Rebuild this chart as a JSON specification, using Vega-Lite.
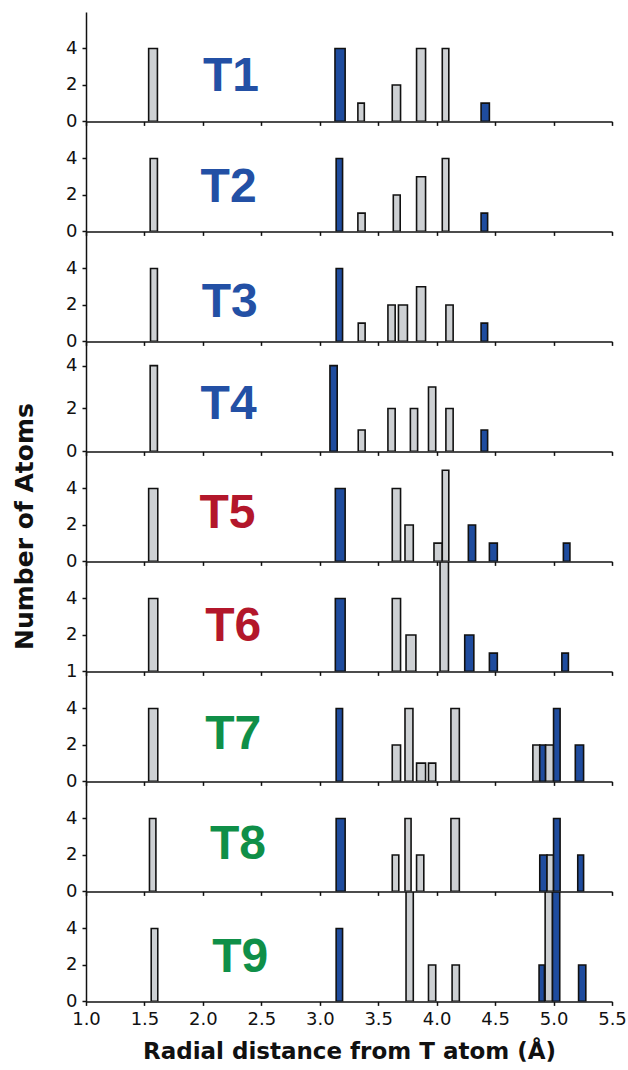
{
  "$schema": "https://vega.github.io/schema/vega-lite/v6.json",
  "padding": {"left": 12, "top": 12, "right": 0, "bottom": 0},
  "background": "white",
  "config": {
    "view": {"stroke": null},
    "axis": {"domainColor": "#111", "tickColor": "#111", "domainWidth": 1.5, "tickWidth": 1.5, "tickSize": 4, "labelFont": "DejaVu Sans", "labelFontSize": 18, "labelColor": "#111", "grid": false, "titleColor": "#111"}
  },
  "datasets": {
    "bars": [
      {"p": "T1", "kind": "O", "lo": 1.536, "hi": 1.611, "n": 4},
      {"p": "T1", "kind": "T", "lo": 3.130, "hi": 3.217, "n": 4},
      {"p": "T1", "kind": "O", "lo": 3.326, "hi": 3.381, "n": 1},
      {"p": "T1", "kind": "O", "lo": 3.620, "hi": 3.691, "n": 2},
      {"p": "T1", "kind": "O", "lo": 3.828, "hi": 3.905, "n": 4},
      {"p": "T1", "kind": "O", "lo": 4.048, "hi": 4.104, "n": 4},
      {"p": "T1", "kind": "T", "lo": 4.380, "hi": 4.451, "n": 1},
      {"p": "T2", "kind": "O", "lo": 1.549, "hi": 1.611, "n": 4},
      {"p": "T2", "kind": "T", "lo": 3.140, "hi": 3.195, "n": 4},
      {"p": "T2", "kind": "O", "lo": 3.326, "hi": 3.388, "n": 1},
      {"p": "T2", "kind": "O", "lo": 3.629, "hi": 3.688, "n": 2},
      {"p": "T2", "kind": "O", "lo": 3.828, "hi": 3.905, "n": 3},
      {"p": "T2", "kind": "O", "lo": 4.048, "hi": 4.104, "n": 4},
      {"p": "T2", "kind": "T", "lo": 4.380, "hi": 4.436, "n": 1},
      {"p": "T3", "kind": "O", "lo": 1.552, "hi": 1.611, "n": 4},
      {"p": "T3", "kind": "T", "lo": 3.140, "hi": 3.195, "n": 4},
      {"p": "T3", "kind": "O", "lo": 3.329, "hi": 3.388, "n": 1},
      {"p": "T3", "kind": "O", "lo": 3.583, "hi": 3.645, "n": 2},
      {"p": "T3", "kind": "O", "lo": 3.673, "hi": 3.750, "n": 2},
      {"p": "T3", "kind": "O", "lo": 3.828, "hi": 3.905, "n": 3},
      {"p": "T3", "kind": "O", "lo": 4.079, "hi": 4.141, "n": 2},
      {"p": "T3", "kind": "T", "lo": 4.380, "hi": 4.436, "n": 1},
      {"p": "T4", "kind": "O", "lo": 1.549, "hi": 1.611, "n": 4},
      {"p": "T4", "kind": "T", "lo": 3.087, "hi": 3.149, "n": 4},
      {"p": "T4", "kind": "O", "lo": 3.329, "hi": 3.388, "n": 1},
      {"p": "T4", "kind": "O", "lo": 3.583, "hi": 3.645, "n": 2},
      {"p": "T4", "kind": "O", "lo": 3.775, "hi": 3.837, "n": 2},
      {"p": "T4", "kind": "O", "lo": 3.930, "hi": 3.992, "n": 3},
      {"p": "T4", "kind": "O", "lo": 4.079, "hi": 4.141, "n": 2},
      {"p": "T4", "kind": "T", "lo": 4.380, "hi": 4.436, "n": 1},
      {"p": "T5", "kind": "O", "lo": 1.536, "hi": 1.614, "n": 4},
      {"p": "T5", "kind": "T", "lo": 3.133, "hi": 3.217, "n": 4},
      {"p": "T5", "kind": "O", "lo": 3.620, "hi": 3.691, "n": 4},
      {"p": "T5", "kind": "O", "lo": 3.729, "hi": 3.800, "n": 2},
      {"p": "T5", "kind": "O", "lo": 3.977, "hi": 4.048, "n": 1},
      {"p": "T5", "kind": "O", "lo": 4.048, "hi": 4.104, "n": 5},
      {"p": "T5", "kind": "T", "lo": 4.271, "hi": 4.333, "n": 2},
      {"p": "T5", "kind": "T", "lo": 4.451, "hi": 4.519, "n": 1},
      {"p": "T5", "kind": "T", "lo": 5.084, "hi": 5.140, "n": 1},
      {"p": "T6", "kind": "O", "lo": 1.536, "hi": 1.614, "n": 4},
      {"p": "T6", "kind": "T", "lo": 3.133, "hi": 3.217, "n": 4},
      {"p": "T6", "kind": "O", "lo": 3.620, "hi": 3.691, "n": 4},
      {"p": "T6", "kind": "O", "lo": 3.738, "hi": 3.822, "n": 2},
      {"p": "T6", "kind": "O", "lo": 4.029, "hi": 4.101, "n": 6},
      {"p": "T6", "kind": "T", "lo": 4.240, "hi": 4.318, "n": 2},
      {"p": "T6", "kind": "T", "lo": 4.451, "hi": 4.519, "n": 1},
      {"p": "T6", "kind": "T", "lo": 5.071, "hi": 5.127, "n": 1},
      {"p": "T7", "kind": "O", "lo": 1.536, "hi": 1.614, "n": 4},
      {"p": "T7", "kind": "T", "lo": 3.140, "hi": 3.195, "n": 4},
      {"p": "T7", "kind": "O", "lo": 3.620, "hi": 3.691, "n": 2},
      {"p": "T7", "kind": "O", "lo": 3.729, "hi": 3.797, "n": 4},
      {"p": "T7", "kind": "O", "lo": 3.828, "hi": 3.905, "n": 1},
      {"p": "T7", "kind": "O", "lo": 3.930, "hi": 3.992, "n": 1},
      {"p": "T7", "kind": "O", "lo": 4.122, "hi": 4.194, "n": 4},
      {"p": "T7", "kind": "O", "lo": 4.823, "hi": 4.882, "n": 2},
      {"p": "T7", "kind": "T", "lo": 4.882, "hi": 4.932, "n": 2},
      {"p": "T7", "kind": "O", "lo": 4.932, "hi": 5.000, "n": 2},
      {"p": "T7", "kind": "T", "lo": 5.000, "hi": 5.056, "n": 4},
      {"p": "T7", "kind": "T", "lo": 5.186, "hi": 5.257, "n": 2},
      {"p": "T8", "kind": "O", "lo": 1.543, "hi": 1.598, "n": 4},
      {"p": "T8", "kind": "T", "lo": 3.140, "hi": 3.217, "n": 4},
      {"p": "T8", "kind": "O", "lo": 3.620, "hi": 3.676, "n": 2},
      {"p": "T8", "kind": "O", "lo": 3.729, "hi": 3.781, "n": 4},
      {"p": "T8", "kind": "O", "lo": 3.828, "hi": 3.890, "n": 2},
      {"p": "T8", "kind": "O", "lo": 4.122, "hi": 4.194, "n": 4},
      {"p": "T8", "kind": "T", "lo": 4.882, "hi": 4.944, "n": 2},
      {"p": "T8", "kind": "O", "lo": 4.944, "hi": 5.000, "n": 2},
      {"p": "T8", "kind": "T", "lo": 5.000, "hi": 5.056, "n": 4},
      {"p": "T8", "kind": "T", "lo": 5.207, "hi": 5.257, "n": 2},
      {"p": "T9", "kind": "O", "lo": 1.558, "hi": 1.614, "n": 4},
      {"p": "T9", "kind": "T", "lo": 3.140, "hi": 3.195, "n": 4},
      {"p": "T9", "kind": "O", "lo": 3.738, "hi": 3.800, "n": 6},
      {"p": "T9", "kind": "O", "lo": 3.930, "hi": 3.992, "n": 2},
      {"p": "T9", "kind": "O", "lo": 4.132, "hi": 4.194, "n": 2},
      {"p": "T9", "kind": "T", "lo": 4.876, "hi": 4.922, "n": 2},
      {"p": "T9", "kind": "O", "lo": 4.928, "hi": 4.991, "n": 6},
      {"p": "T9", "kind": "T", "lo": 4.991, "hi": 5.053, "n": 6},
      {"p": "T9", "kind": "T", "lo": 5.214, "hi": 5.276, "n": 2}
    ],
    "labels": [
      {"p": "T1", "g": "a", "x": 2.24, "y": 1.65},
      {"p": "T2", "g": "a", "x": 2.22, "y": 1.6},
      {"p": "T3", "g": "a", "x": 2.23, "y": 1.32},
      {"p": "T4", "g": "a", "x": 2.22, "y": 1.5},
      {"p": "T5", "g": "b", "x": 2.21, "y": 1.81},
      {"p": "T6", "g": "b", "x": 2.26, "y": 1.65},
      {"p": "T7", "g": "c", "x": 2.26, "y": 1.76},
      {"p": "T8", "g": "c", "x": 2.30, "y": 1.76},
      {"p": "T9", "g": "c", "x": 2.32, "y": 1.6}
    ]
  },
  "vconcat": [
    {"width": 526, "height": 109.4, "layer": [
      {"data": {"name": "bars"}, "transform": [{"filter": "datum.p == 'T1'"}], "mark": {"type": "bar", "stroke": "#111", "strokeWidth": 1.6, "clip": true},
       "encoding": {"x": {"field": "lo", "type": "quantitative", "scale": {"domain": [1, 5.5], "nice": false, "zero": false}, "axis": {"values": [1,1.25,1.5,1.75,2,2.25,2.5,2.75,3,3.25,3.5,3.75,4,4.25,4.5,4.75,5,5.25,5.5], "labels": false, "title": null}},
        "x2": {"field": "hi"},
        "y": {"field": "n", "type": "quantitative", "scale": {"domain": [0, 6], "nice": false}, "axis": {"values": [0,1,2,3,4,5], "format": "d", "labelExpr": "datum.value % 2 == 0 ? datum.label : ''", "title": null, "labelPadding": 5}},
        "y2": {"datum": 0},
        "fill": {"field": "kind", "type": "nominal", "scale": {"domain": ["O", "T"], "range": ["#cdd0d3", "#1f4c9e"]}, "legend": null}}},
      {"data": {"name": "labels"}, "transform": [{"filter": "datum.p == 'T1'"}], "mark": {"type": "text", "font": "Liberation Sans", "fontWeight": "bold", "fontSize": 48, "align": "center", "baseline": "alphabetic"},
       "encoding": {"x": {"field": "x", "type": "quantitative"}, "y": {"field": "y", "type": "quantitative"}, "text": {"field": "p", "type": "nominal"},
        "color": {"field": "g", "type": "nominal", "scale": {"domain": ["a", "b", "c"], "range": ["#2350a5", "#b3172b", "#0f8f48"]}, "legend": null}}}
    ]},
    {"width": 526, "height": 109.4, "layer": [
      {"data": {"name": "bars"}, "transform": [{"filter": "datum.p == 'T2'"}], "mark": {"type": "bar", "stroke": "#111", "strokeWidth": 1.6, "clip": true},
       "encoding": {"x": {"field": "lo", "type": "quantitative", "scale": {"domain": [1, 5.5], "nice": false, "zero": false}, "axis": {"values": [1,1.25,1.5,1.75,2,2.25,2.5,2.75,3,3.25,3.5,3.75,4,4.25,4.5,4.75,5,5.25,5.5], "labels": false, "title": null}},
        "x2": {"field": "hi"},
        "y": {"field": "n", "type": "quantitative", "scale": {"domain": [0, 6], "nice": false}, "axis": {"values": [0,1,2,3,4,5], "format": "d", "labelExpr": "datum.value % 2 == 0 ? datum.label : ''", "title": null, "labelPadding": 5}},
        "y2": {"datum": 0},
        "fill": {"field": "kind", "type": "nominal", "scale": {"domain": ["O", "T"], "range": ["#cdd0d3", "#1f4c9e"]}, "legend": null}}},
      {"data": {"name": "labels"}, "transform": [{"filter": "datum.p == 'T2'"}], "mark": {"type": "text", "font": "Liberation Sans", "fontWeight": "bold", "fontSize": 48, "align": "center", "baseline": "alphabetic"},
       "encoding": {"x": {"field": "x", "type": "quantitative"}, "y": {"field": "y", "type": "quantitative"}, "text": {"field": "p", "type": "nominal"},
        "color": {"field": "g", "type": "nominal", "scale": {"domain": ["a", "b", "c"], "range": ["#2350a5", "#b3172b", "#0f8f48"]}, "legend": null}}}
    ]},
    {"width": 526, "height": 109.4, "layer": [
      {"data": {"name": "bars"}, "transform": [{"filter": "datum.p == 'T3'"}], "mark": {"type": "bar", "stroke": "#111", "strokeWidth": 1.6, "clip": true},
       "encoding": {"x": {"field": "lo", "type": "quantitative", "scale": {"domain": [1, 5.5], "nice": false, "zero": false}, "axis": {"values": [1,1.25,1.5,1.75,2,2.25,2.5,2.75,3,3.25,3.5,3.75,4,4.25,4.5,4.75,5,5.25,5.5], "labels": false, "title": null}},
        "x2": {"field": "hi"},
        "y": {"field": "n", "type": "quantitative", "scale": {"domain": [0, 6], "nice": false}, "axis": {"values": [0,1,2,3,4,5], "format": "d", "labelExpr": "datum.value % 2 == 0 ? datum.label : ''", "title": null, "labelPadding": 5}},
        "y2": {"datum": 0},
        "fill": {"field": "kind", "type": "nominal", "scale": {"domain": ["O", "T"], "range": ["#cdd0d3", "#1f4c9e"]}, "legend": null}}},
      {"data": {"name": "labels"}, "transform": [{"filter": "datum.p == 'T3'"}], "mark": {"type": "text", "font": "Liberation Sans", "fontWeight": "bold", "fontSize": 48, "align": "center", "baseline": "alphabetic"},
       "encoding": {"x": {"field": "x", "type": "quantitative"}, "y": {"field": "y", "type": "quantitative"}, "text": {"field": "p", "type": "nominal"},
        "color": {"field": "g", "type": "nominal", "scale": {"domain": ["a", "b", "c"], "range": ["#2350a5", "#b3172b", "#0f8f48"]}, "legend": null}}}
    ]},
    {"width": 526, "height": 109.4, "layer": [
      {"data": {"name": "bars"}, "transform": [{"filter": "datum.p == 'T4'"}], "mark": {"type": "bar", "stroke": "#111", "strokeWidth": 1.6, "clip": true},
       "encoding": {"x": {"field": "lo", "type": "quantitative", "scale": {"domain": [1, 5.5], "nice": false, "zero": false}, "axis": {"values": [1,1.25,1.5,1.75,2,2.25,2.5,2.75,3,3.25,3.5,3.75,4,4.25,4.5,4.75,5,5.25,5.5], "labels": false, "title": null}},
        "x2": {"field": "hi"},
        "y": {"field": "n", "type": "quantitative", "scale": {"domain": [0, 5.1], "nice": false}, "axis": {"values": [0,1,2,3,4,5], "format": "d", "labelExpr": "datum.value % 2 == 0 ? datum.label : ''", "title": null, "labelPadding": 5}},
        "y2": {"datum": 0},
        "fill": {"field": "kind", "type": "nominal", "scale": {"domain": ["O", "T"], "range": ["#cdd0d3", "#1f4c9e"]}, "legend": null}}},
      {"data": {"name": "labels"}, "transform": [{"filter": "datum.p == 'T4'"}], "mark": {"type": "text", "font": "Liberation Sans", "fontWeight": "bold", "fontSize": 48, "align": "center", "baseline": "alphabetic"},
       "encoding": {"x": {"field": "x", "type": "quantitative"}, "y": {"field": "y", "type": "quantitative"}, "text": {"field": "p", "type": "nominal"},
        "color": {"field": "g", "type": "nominal", "scale": {"domain": ["a", "b", "c"], "range": ["#2350a5", "#b3172b", "#0f8f48"]}, "legend": null}}}
    ]},
    {"width": 526, "height": 109.4, "layer": [
      {"data": {"name": "bars"}, "transform": [{"filter": "datum.p == 'T5'"}], "mark": {"type": "bar", "stroke": "#111", "strokeWidth": 1.6, "clip": true},
       "encoding": {"x": {"field": "lo", "type": "quantitative", "scale": {"domain": [1, 5.5], "nice": false, "zero": false}, "axis": {"values": [1,1.25,1.5,1.75,2,2.25,2.5,2.75,3,3.25,3.5,3.75,4,4.25,4.5,4.75,5,5.25,5.5], "labels": false, "title": null}},
        "x2": {"field": "hi"},
        "y": {"field": "n", "type": "quantitative", "scale": {"domain": [0, 6], "nice": false}, "axis": {"values": [0,1,2,3,4,5], "format": "d", "labelExpr": "datum.value % 2 == 0 ? datum.label : ''", "labelPadding": 5, "title": "Number of Atoms", "titleFont": "DejaVu Sans", "titleFontSize": 25, "titleFontWeight": "bold", "titleY": 74, "titlePadding": 28}},
        "y2": {"datum": 0},
        "fill": {"field": "kind", "type": "nominal", "scale": {"domain": ["O", "T"], "range": ["#cdd0d3", "#1f4c9e"]}, "legend": null}}},
      {"data": {"name": "labels"}, "transform": [{"filter": "datum.p == 'T5'"}], "mark": {"type": "text", "font": "Liberation Sans", "fontWeight": "bold", "fontSize": 48, "align": "center", "baseline": "alphabetic"},
       "encoding": {"x": {"field": "x", "type": "quantitative"}, "y": {"field": "y", "type": "quantitative"}, "text": {"field": "p", "type": "nominal"},
        "color": {"field": "g", "type": "nominal", "scale": {"domain": ["a", "b", "c"], "range": ["#2350a5", "#b3172b", "#0f8f48"]}, "legend": null}}}
    ]},
    {"width": 526, "height": 109.4, "layer": [
      {"data": {"name": "bars"}, "transform": [{"filter": "datum.p == 'T6'"}], "mark": {"type": "bar", "stroke": "#111", "strokeWidth": 1.6, "clip": true},
       "encoding": {"x": {"field": "lo", "type": "quantitative", "scale": {"domain": [1, 5.5], "nice": false, "zero": false}, "axis": {"values": [1,1.25,1.5,1.75,2,2.25,2.5,2.75,3,3.25,3.5,3.75,4,4.25,4.5,4.75,5,5.25,5.5], "labels": false, "title": null}},
        "x2": {"field": "hi"},
        "y": {"field": "n", "type": "quantitative", "scale": {"domain": [0, 6], "nice": false}, "axis": {"values": [0,1,2,3,4,5], "format": "d", "labelExpr": "datum.value == 0 ? '1' : (datum.value % 2 == 0 ? datum.label : '')", "title": null, "labelPadding": 5}},
        "y2": {"datum": 0},
        "fill": {"field": "kind", "type": "nominal", "scale": {"domain": ["O", "T"], "range": ["#cdd0d3", "#1f4c9e"]}, "legend": null}}},
      {"data": {"name": "labels"}, "transform": [{"filter": "datum.p == 'T6'"}], "mark": {"type": "text", "font": "Liberation Sans", "fontWeight": "bold", "fontSize": 48, "align": "center", "baseline": "alphabetic"},
       "encoding": {"x": {"field": "x", "type": "quantitative"}, "y": {"field": "y", "type": "quantitative"}, "text": {"field": "p", "type": "nominal"},
        "color": {"field": "g", "type": "nominal", "scale": {"domain": ["a", "b", "c"], "range": ["#2350a5", "#b3172b", "#0f8f48"]}, "legend": null}}}
    ]},
    {"width": 526, "height": 109.4, "layer": [
      {"data": {"name": "bars"}, "transform": [{"filter": "datum.p == 'T7'"}], "mark": {"type": "bar", "stroke": "#111", "strokeWidth": 1.6, "clip": true},
       "encoding": {"x": {"field": "lo", "type": "quantitative", "scale": {"domain": [1, 5.5], "nice": false, "zero": false}, "axis": {"values": [1,1.25,1.5,1.75,2,2.25,2.5,2.75,3,3.25,3.5,3.75,4,4.25,4.5,4.75,5,5.25,5.5], "labels": false, "title": null}},
        "x2": {"field": "hi"},
        "y": {"field": "n", "type": "quantitative", "scale": {"domain": [0, 6], "nice": false}, "axis": {"values": [0,1,2,3,4,5], "format": "d", "labelExpr": "datum.value % 2 == 0 ? datum.label : ''", "title": null, "labelPadding": 5}},
        "y2": {"datum": 0},
        "fill": {"field": "kind", "type": "nominal", "scale": {"domain": ["O", "T"], "range": ["#cdd0d3", "#1f4c9e"]}, "legend": null}}},
      {"data": {"name": "labels"}, "transform": [{"filter": "datum.p == 'T7'"}], "mark": {"type": "text", "font": "Liberation Sans", "fontWeight": "bold", "fontSize": 48, "align": "center", "baseline": "alphabetic"},
       "encoding": {"x": {"field": "x", "type": "quantitative"}, "y": {"field": "y", "type": "quantitative"}, "text": {"field": "p", "type": "nominal"},
        "color": {"field": "g", "type": "nominal", "scale": {"domain": ["a", "b", "c"], "range": ["#2350a5", "#b3172b", "#0f8f48"]}, "legend": null}}}
    ]},
    {"width": 526, "height": 109.4, "layer": [
      {"data": {"name": "bars"}, "transform": [{"filter": "datum.p == 'T8'"}], "mark": {"type": "bar", "stroke": "#111", "strokeWidth": 1.6, "clip": true},
       "encoding": {"x": {"field": "lo", "type": "quantitative", "scale": {"domain": [1, 5.5], "nice": false, "zero": false}, "axis": {"values": [1,1.25,1.5,1.75,2,2.25,2.5,2.75,3,3.25,3.5,3.75,4,4.25,4.5,4.75,5,5.25,5.5], "labels": false, "title": null}},
        "x2": {"field": "hi"},
        "y": {"field": "n", "type": "quantitative", "scale": {"domain": [0, 6], "nice": false}, "axis": {"values": [0,1,2,3,4,5], "format": "d", "labelExpr": "datum.value % 2 == 0 ? datum.label : ''", "title": null, "labelPadding": 5}},
        "y2": {"datum": 0},
        "fill": {"field": "kind", "type": "nominal", "scale": {"domain": ["O", "T"], "range": ["#cdd0d3", "#1f4c9e"]}, "legend": null}}},
      {"data": {"name": "labels"}, "transform": [{"filter": "datum.p == 'T8'"}], "mark": {"type": "text", "font": "Liberation Sans", "fontWeight": "bold", "fontSize": 48, "align": "center", "baseline": "alphabetic"},
       "encoding": {"x": {"field": "x", "type": "quantitative"}, "y": {"field": "y", "type": "quantitative"}, "text": {"field": "p", "type": "nominal"},
        "color": {"field": "g", "type": "nominal", "scale": {"domain": ["a", "b", "c"], "range": ["#2350a5", "#b3172b", "#0f8f48"]}, "legend": null}}}
    ]},
    {"width": 526, "height": 109.4, "layer": [
      {"data": {"name": "bars"}, "transform": [{"filter": "datum.p == 'T9'"}], "mark": {"type": "bar", "stroke": "#111", "strokeWidth": 1.6, "clip": true},
       "encoding": {"x": {"field": "lo", "type": "quantitative", "scale": {"domain": [1, 5.5], "nice": false, "zero": false}, "axis": {"values": [1,1.25,1.5,1.75,2,2.25,2.5,2.75,3,3.25,3.5,3.75,4,4.25,4.5,4.75,5,5.25,5.5], "format": ".1f", "labelExpr": "datum.value * 2 == round(datum.value * 2) ? datum.label : ''", "labelFlush": false, "labelPadding": 5, "labelOverlap": false, "title": "Radial distance from T atom (Å)", "titleFont": "DejaVu Sans", "titleFontSize": 23, "titleFontWeight": "bold", "titlePadding": 12}},
        "x2": {"field": "hi"},
        "y": {"field": "n", "type": "quantitative", "scale": {"domain": [0, 6], "nice": false}, "axis": {"values": [0,1,2,3,4,5], "format": "d", "labelExpr": "datum.value % 2 == 0 ? datum.label : ''", "title": null, "labelPadding": 5}},
        "y2": {"datum": 0},
        "fill": {"field": "kind", "type": "nominal", "scale": {"domain": ["O", "T"], "range": ["#cdd0d3", "#1f4c9e"]}, "legend": null}}},
      {"data": {"name": "labels"}, "transform": [{"filter": "datum.p == 'T9'"}], "mark": {"type": "text", "font": "Liberation Sans", "fontWeight": "bold", "fontSize": 48, "align": "center", "baseline": "alphabetic"},
       "encoding": {"x": {"field": "x", "type": "quantitative"}, "y": {"field": "y", "type": "quantitative"}, "text": {"field": "p", "type": "nominal"},
        "color": {"field": "g", "type": "nominal", "scale": {"domain": ["a", "b", "c"], "range": ["#2350a5", "#b3172b", "#0f8f48"]}, "legend": null}}}
    ]}
  ],
  "spacing": 0,
  "bounds": "flush",
  "resolve": {"scale": {"x": "independent", "y": "independent"}}
}
